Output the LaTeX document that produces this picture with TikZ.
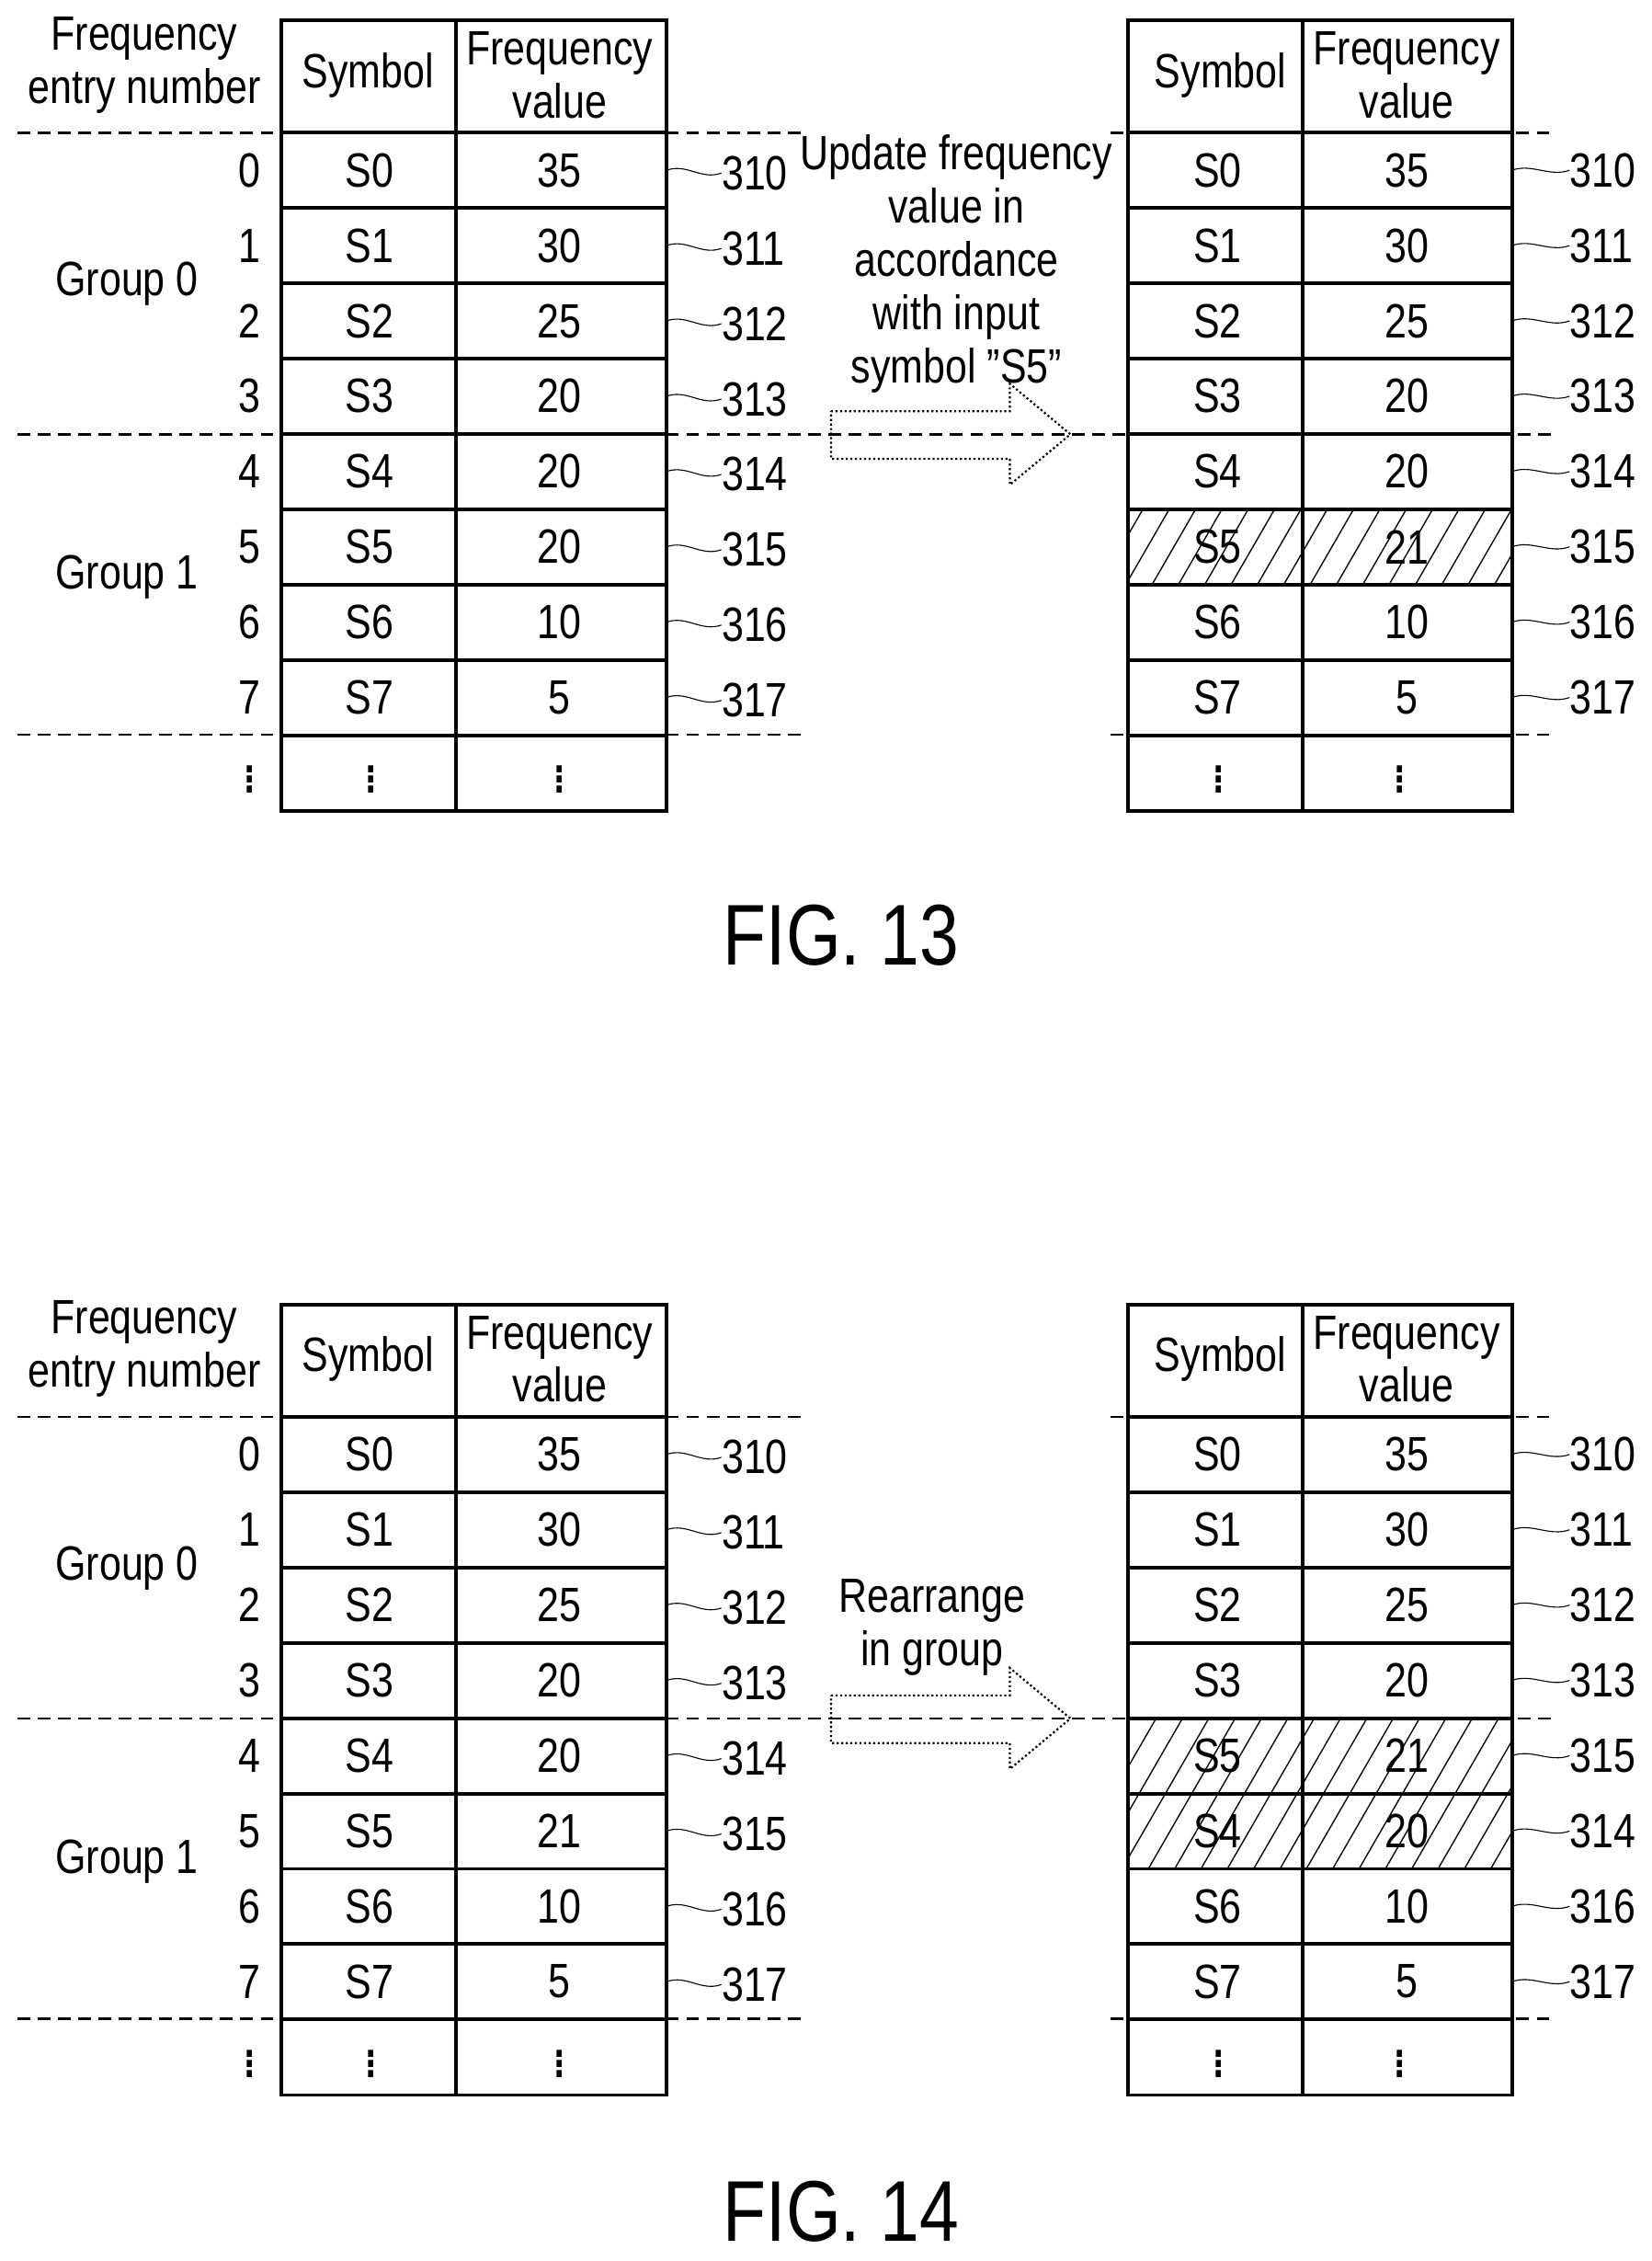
\documentclass[tikz,border=0pt]{standalone}
\usepackage{fontspec}
\setmainfont{Liberation Sans}[FakeStretch=0.82]
\usetikzlibrary{patterns.meta}

\tikzset{
  tbl/.style={line width=1.4pt},
  grp/.style={dashed,line width=0.9pt,dash pattern=on 5pt off 3pt},
  txt/.style={font=\fontsize{19}{21}\selectfont,inner sep=0pt},
  dots/.style={font=\fontsize{26}{26}\selectfont,inner sep=0pt},
  ref/.style={txt,anchor=west},
  hatch/.style={pattern={Lines[angle=60,distance=9pt,line width=0.5pt]}},
  bigarrow/.style={densely dotted,line width=0.8pt},
}

\begin{document}
\begin{tikzpicture}[x=0.02cm,y=-0.02cm]
\useasboundingbox (0,0) rectangle (1145,1567);

% hatched cells
\fill[hatch] (782,353) rectangle (1048,405);
\fill[hatch] (782,1191) rectangle (1048,1295);

% ---------- FIG. 13 and FIG. 14 ----------
\foreach \f/\dy in {a/0,b/890}{
\begin{scope}[yshift=-\dy*0.02cm]
% headers
\node[txt,align=center] (\f hnum) at (100,45) {Frequency\\entry number};
\node[txt] (\f hsl) at (255,52) {Symbol};
\node[txt,align=center] (\f hfl) at (388,52) {Frequency\\value};
\node[txt] (\f hsr) at (846,52) {Symbol};
\node[txt,align=center] (\f hfr) at (975,52) {Frequency\\value};
\node[txt] (\f g0) at (88,197) {Group 0};
\node[txt] (\f g1) at (88,400) {Group 1};
% tables
\foreach \x/\y in {195/462,782/1048}{
  \draw[tbl] (\x,14) rectangle (\y,562);
  \draw[tbl] (\x,92) -- (\y,92);
  \foreach \i in {1,...,8}
    \draw[tbl] (\x,92+52.2*\i) -- (\y,92+52.2*\i);
}
\draw[tbl] (316,14) -- (316,562);
\draw[tbl] (903,14) -- (903,562);
% group lines
\draw[grp] (12,92) -- (560,92);
\draw[grp] (770,92) -- (1078,92);
\draw[grp] (12,301) -- (1078,301);
\draw[grp] (12,509) -- (560,509);
\draw[grp] (770,509) -- (1078,509);
% continuation dots
\node[dots] (\f d0) at (173,535) {$\vdots$};
\node[dots] (\f d1) at (257,535) {$\vdots$};
\node[dots] (\f d2) at (388,535) {$\vdots$};
\node[dots] (\f d3) at (845,535) {$\vdots$};
\node[dots] (\f d4) at (970,535) {$\vdots$};
% arrow
\draw[bigarrow] (576,285) -- (700,285) -- (700,266) -- (742,301)
  -- (700,336) -- (700,318) -- (576,318) -- cycle;
\end{scope}
}

% left tables
\foreach \f/\dy/\list in {a/0/{S0/35,S1/30,S2/25,S3/20,S4/20,S5/20,S6/10,S7/5},
                          b/890/{S0/35,S1/30,S2/25,S3/20,S4/20,S5/21,S6/10,S7/5}}{
  \foreach \s/\v [count=\n from 0] in \list{
    \pgfmathsetmacro{\c}{118+52.2*\n+\dy}
    \pgfmathtruncatemacro{\r}{310+\n}
    \node[txt] (\f n\n) at (173,\c) {\n};
    \node[txt] (\f ls\n) at (256,\c) {\s};
    \node[txt] (\f lv\n) at (388,\c) {\v};
    \coordinate (\f le\n) at (462,\c);
    \node[ref] (\f lr\n) at (500,\c+2) {\r};
    \draw (\f le\n) .. controls +(14,-5) and +(-14,5) .. (\f lr\n.west);
  }
}

% right tables
\foreach \f/\dy/\list in {a/0/{S0/35/310,S1/30/311,S2/25/312,S3/20/313,S4/20/314,S5/21/315,S6/10/316,S7/5/317},
                          b/890/{S0/35/310,S1/30/311,S2/25/312,S3/20/313,S5/21/315,S4/20/314,S6/10/316,S7/5/317}}{
  \foreach \s/\v/\r [count=\n from 0] in \list{
    \pgfmathsetmacro{\c}{118+52.2*\n+\dy}
    \node[txt] (\f rs\n) at (844,\c) {\s};
    \node[txt] (\f rv\n) at (975,\c) {\v};
    \coordinate (\f re\n) at (1048,\c);
    \node[ref] (\f rr\n) at (1088,\c) {\r};
    \draw (\f re\n) .. controls +(14,-5) and +(-14,5) .. (\f rr\n.west);
  }
}

% arrow texts
\node[txt,align=center] (upd) at (663,183)
  {Update frequency\\value in\\accordance\\with input\\symbol "S5"};
\node[txt,align=center] (rea) at (646,1128) {Rearrange\\in group};

% captions
\node[font=\fontsize{34}{36}\selectfont] (fig13) at (583,648) {FIG. 13};
\node[font=\fontsize{34}{36}\selectfont] (fig14) at (583,1533) {FIG. 14};
\end{tikzpicture}
\end{document}
